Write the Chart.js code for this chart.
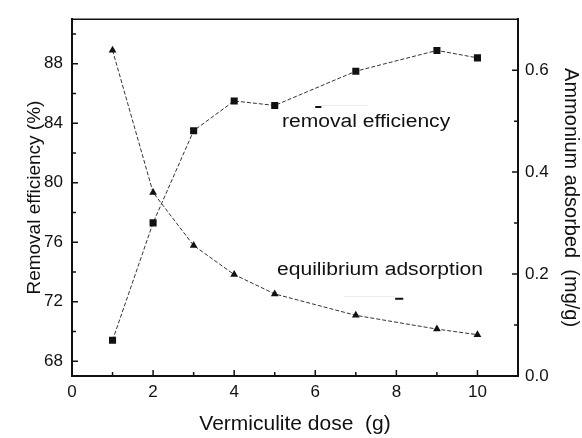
<!DOCTYPE html>
<html lang="en">
<head>
    <meta charset="UTF-8">
    <title>Vermiculite dose</title>
    <script src="https://cdn.jsdelivr.net/npm/chart.js"></script>
    <style>
        body { margin: 0; background: #fff; }
        .chart-box { width: 582px; height: 438px; }
    </style>
</head>
<body>
    <div class="chart-box"><canvas id="doseChart"></canvas></div>

    <script>
        // data
        const doses = [1, 2, 3, 4, 5, 7, 9, 10];                                   // g
        const removalEff = [69.4, 77.3, 83.5, 85.5, 85.2, 87.5, 88.9, 88.4];       // %
        const adsorbed = [0.639, 0.360, 0.256, 0.199, 0.161, 0.119, 0.092, 0.081]; // mg/g

        const xTicks = [0, 2, 4, 6, 8, 10];
        const xMinor = [1, 3, 5, 7, 9];
        const leftTicks = [68, 72, 76, 80, 84, 88];
        const leftMinor = [70, 74, 78, 82, 86, 90];
        const rightTicks = [0, 0.2, 0.4, 0.6];
        const rightMinor = [0.1, 0.3, 0.5];

        const ink = '#111';
        const fontName = '"Liberation Sans", Arial, sans-serif';

        // ticks pointing into the plot, top frame line and the two text labels
        const framePlugin = {
            id: 'frame',
            afterDraw(chart) {
                const ctx = chart.ctx;
                const area = chart.chartArea;
                const x = chart.scales.x, yl = chart.scales.y, yr = chart.scales.y1;
                ctx.save();
                ctx.strokeStyle = ink;
                ctx.lineWidth = 1.5;
                ctx.beginPath();
                ctx.moveTo(area.left, area.top);
                ctx.lineTo(area.right, area.top);
                ctx.stroke();

                const mark = (vals, len, fn) => vals.forEach(v => fn(v, len));
                ctx.beginPath();
                const xt = (v, len) => { const p = x.getPixelForValue(v); ctx.moveTo(p, area.bottom); ctx.lineTo(p, area.bottom - len); };
                const lt = (v, len) => { const p = yl.getPixelForValue(v); ctx.moveTo(area.left, p); ctx.lineTo(area.left + len, p); };
                const rt = (v, len) => { const p = yr.getPixelForValue(v); ctx.moveTo(area.right, p); ctx.lineTo(area.right - len, p); };
                mark(xTicks, 6, xt); mark(xMinor, 4, xt);
                mark(leftTicks, 6, lt); mark(leftMinor, 4, lt);
                mark(rightTicks, 6, rt); mark(rightMinor, 4, rt);
                ctx.stroke();

                // small leftover legend marks
                ctx.strokeStyle = '#ececec';
                ctx.lineWidth = 1;
                ctx.beginPath();
                ctx.moveTo(x.getPixelForValue(6.15), yl.getPixelForValue(85.2));
                ctx.lineTo(x.getPixelForValue(7.3), yl.getPixelForValue(85.2));
                ctx.moveTo(x.getPixelForValue(6.7), yl.getPixelForValue(72.35));
                ctx.lineTo(x.getPixelForValue(7.95), yl.getPixelForValue(72.35));
                ctx.stroke();
                ctx.strokeStyle = ink;
                ctx.lineWidth = 2;
                ctx.beginPath();
                ctx.moveTo(x.getPixelForValue(6.0), yl.getPixelForValue(85.1));
                ctx.lineTo(x.getPixelForValue(6.15), yl.getPixelForValue(85.1));
                ctx.moveTo(x.getPixelForValue(7.97), yl.getPixelForValue(72.2));
                ctx.lineTo(x.getPixelForValue(8.17), yl.getPixelForValue(72.2));
                ctx.stroke();

                // labels inside the plot
                ctx.fillStyle = ink;
                ctx.font = '18px ' + fontName;
                ctx.textBaseline = 'alphabetic';
                const label = (txt, px, py) => {
                    ctx.save();
                    ctx.translate(px, py);
                    ctx.scale(1.17, 1);
                    ctx.fillText(txt, 0, 0);
                    ctx.restore();
                };
                label('removal efficiency', 282, 127);
                label('equilibrium adsorption', 277, 275);
                ctx.restore();
            }
        };

        new Chart(document.getElementById('doseChart'), {
            type: 'line',
            data: {
                datasets: [
                    {
                        label: 'removal efficiency',
                        data: doses.map((d, i) => ({ x: d, y: removalEff[i] })),
                        yAxisID: 'y',
                        borderColor: '#333',
                        borderWidth: 1,
                        borderDash: [4, 2],
                        pointStyle: 'rect',
                        pointRadius: 5,
                        pointBackgroundColor: ink,
                        pointBorderColor: ink,
                        pointBorderWidth: 0
                    },
                    {
                        label: 'equilibrium adsorption',
                        data: doses.map((d, i) => ({ x: d, y: adsorbed[i] })),
                        yAxisID: 'y1',
                        borderColor: '#333',
                        borderWidth: 1,
                        borderDash: [4, 2],
                        pointStyle: 'triangle',
                        pointRadius: 4.5,
                        pointBackgroundColor: ink,
                        pointBorderColor: ink,
                        pointBorderWidth: 0
                    }
                ]
            },
            options: {
                responsive: true,
                maintainAspectRatio: false,
                animation: false,
                layout: { padding: { top: 12, left: 0, right: 0, bottom: 0 } },
                plugins: { legend: { display: false }, tooltip: { enabled: false } },
                scales: {
                    x: {
                        type: 'linear',
                        min: 0, max: 11,
                        grid: { display: false, drawTicks: false },
                        border: { display: true, color: ink, width: 2 },
                        afterBuildTicks: axis => { axis.ticks = xTicks.map(v => ({ value: v })); },
                        afterFit: axis => { axis.height = 62; },
                        ticks: { color: ink, padding: 6, font: { family: fontName, size: 17 } },
                        title: {
                            display: true, text: 'Vermiculite dose  (g)', color: ink,
                            font: { family: fontName, size: 21, lineHeight: 1.1 },
                            padding: { top: 0, bottom: 2 }
                        }
                    },
                    y: {
                        position: 'left',
                        min: 67, max: 91,
                        grid: { display: false, drawTicks: false },
                        border: { display: true, color: ink, width: 2 },
                        afterBuildTicks: axis => { axis.ticks = leftTicks.map(v => ({ value: v })); },
                        afterFit: axis => { axis.width = 72; },
                        ticks: { color: ink, padding: 9, font: { family: fontName, size: 17 } },
                        title: {
                            display: true, text: 'Removal efficiency (%)', color: ink,
                            font: { family: fontName, size: 19, lineHeight: 1.1 },
                            padding: { top: 24, bottom: 0 }
                        }
                    },
                    y1: {
                        position: 'right',
                        min: 0, max: 0.7,
                        grid: { display: false, drawTicks: false },
                        border: { display: true, color: ink, width: 2 },
                        afterBuildTicks: axis => { axis.ticks = rightTicks.map(v => ({ value: v })); },
                        afterFit: axis => { axis.width = 64; },
                        ticks: {
                            color: ink, padding: 7, font: { family: fontName, size: 17 },
                            callback: v => v.toFixed(1)
                        },
                        title: {
                            display: true, text: 'Ammonium adsorbed  (mg/g)', color: ink,
                            font: { family: fontName, size: 20, lineHeight: 1.1 },
                            padding: { top: 0, bottom: 0 }
                        }
                    }
                }
            },
            plugins: [framePlugin]
        });
    </script>
</body>
</html>
